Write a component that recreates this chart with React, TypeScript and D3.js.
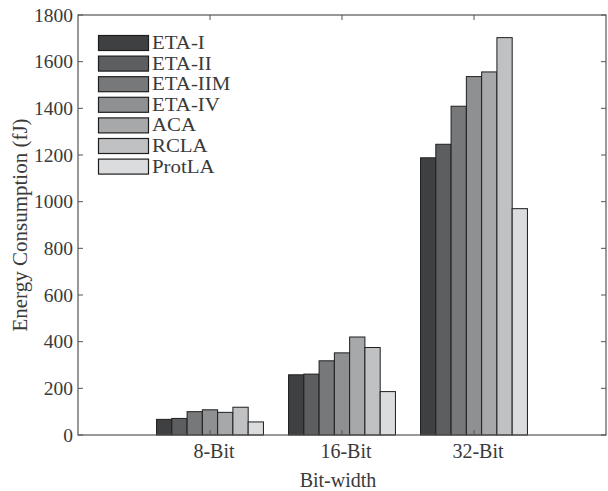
import React from "react";
import * as d3 from "d3";

const categories = ["8-Bit", "16-Bit", "32-Bit"];
const series = ["ETA-I", "ETA-II", "ETA-IIM", "ETA-IV", "ACA", "RCLA", "ProtLA"];
const colors = ["#3f4042", "#5d5e60", "#77787a", "#8f9092", "#a7a8aa", "#c0c1c3", "#dbdcde"];
const values: number[][] = [
  [67, 258, 1188],
  [71, 261, 1246],
  [100, 318, 1409],
  [108, 352, 1536],
  [97, 420, 1556],
  [119, 375, 1703],
  [56, 186, 970],
];
const yTicks = [0, 200, 400, 600, 800, 1000, 1200, 1400, 1600, 1800];

export default function App() {
  const W = 608, H = 491;
  const left = 78, right = 606, top = 15, bottom = 435;
  const x = d3.scaleLinear().domain([0, 4]).range([left, right]);
  const y = d3.scaleLinear().domain([0, 1800]).range([bottom, top]);
  const groupW = 0.81;
  const barW = groupW / series.length;
  const font = "'Liberation Serif', 'Times New Roman', serif";
  const textColor = "#3a3a3a";
  const axisColor = "#555";
  const tl = 5;
  return (
    <svg width={W} height={H} style={{ position: "absolute", left: 0, top: 0 }} fontFamily={font}>
      <rect x={0} y={0} width={W} height={H} fill="#fff" />
      {series.map((s, si) =>
        categories.map((c, ci) => {
          const x0 = x(ci + 1 - groupW / 2 + si * barW);
          const x1 = x(ci + 1 - groupW / 2 + (si + 1) * barW);
          return (
            <rect key={s + c} x={x0} y={y(values[si][ci])} width={x1 - x0} height={y(0) - y(values[si][ci])}
              fill={colors[si]} stroke="#1e1e1e" strokeWidth={1} />
          );
        })
      )}
      <rect x={left} y={top} width={right - left} height={bottom - top} fill="none" stroke={axisColor} strokeWidth={1.2} />
      {yTicks.map((t) => (
        <g key={t}>
          <line x1={left} x2={left + tl} y1={y(t)} y2={y(t)} stroke={axisColor} />
          <line x1={right} x2={right - tl} y1={y(t)} y2={y(t)} stroke={axisColor} />
          <text x={73} y={y(t)} dy="0.34em" textAnchor="end" fontSize={19.5} fill={textColor}>{t}</text>
        </g>
      ))}
      {categories.map((c, ci) => (
        <g key={c}>
          <line x1={x(ci + 1)} x2={x(ci + 1)} y1={bottom} y2={bottom - tl} stroke={axisColor} />
          <line x1={x(ci + 1)} x2={x(ci + 1)} y1={top} y2={top + tl} stroke={axisColor} />
          <text x={x(ci + 1) + 4} y={458} textAnchor="middle" fontSize={20} fill={textColor}>{c}</text>
        </g>
      ))}
      <text x={338} y={487} textAnchor="middle" fontSize={20} fill={textColor}>Bit-width</text>
      <text transform={`translate(27,${(top + bottom) / 2}) rotate(-90)`} textAnchor="middle" fontSize={21} fill={textColor}>Energy Consumption (fJ)</text>
      {series.map((s, si) => (
        <g key={s}>
          <rect x={98.5} y={35.5 + si * 20.6} width={50} height={15} fill={colors[si]} stroke="#1e1e1e" strokeWidth={1.2} />
          <text transform={`translate(152,${49 + si * 20.6}) scale(1.16,1)`} fontSize={18} fill={textColor}>{s}</text>
        </g>
      ))}
    </svg>
  );
}
